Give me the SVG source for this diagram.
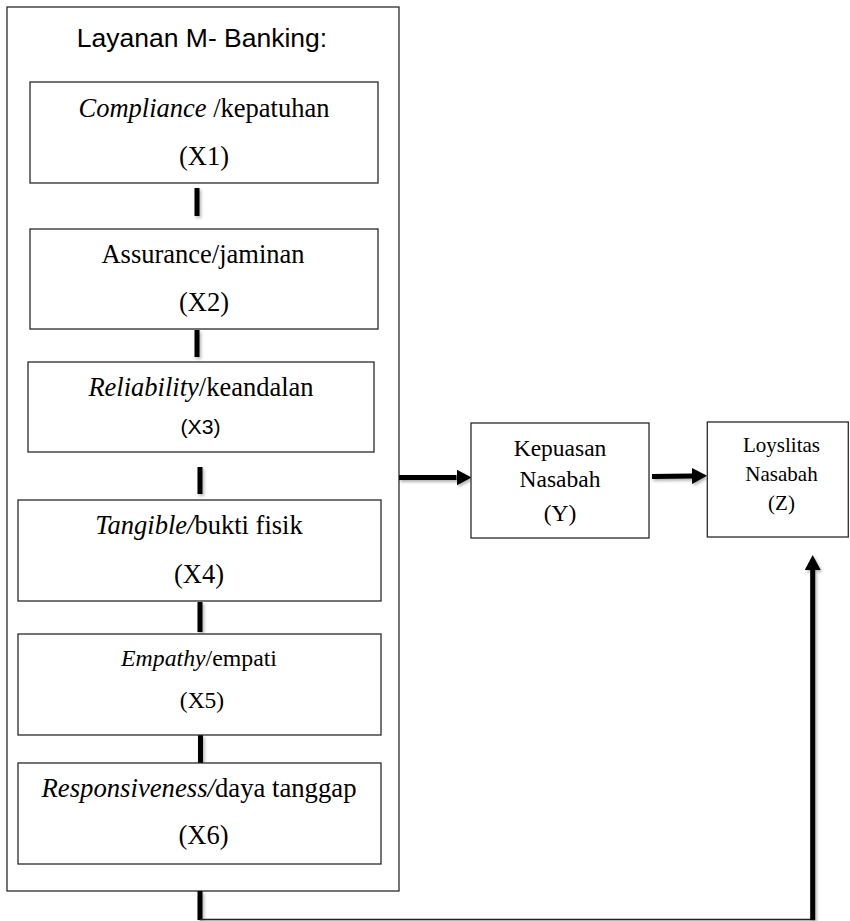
<svg xmlns="http://www.w3.org/2000/svg" width="850" height="921" viewBox="0 0 850 921">
  <style>
    .box { fill: #ffffff; stroke: #2a2a2a; stroke-width: 1.3; }
    .serif { font-family: "Liberation Serif", "Times New Roman", serif; fill: #000; text-anchor: middle; }
    .sans { font-family: "Liberation Sans", Arial, sans-serif; fill: #000; text-anchor: middle; }
    .it { font-style: italic; }
    .link { stroke: #000; stroke-width: 5; fill: none; }
    .thin { stroke: #222; stroke-width: 1.6; fill: none; }
  </style>
  <defs>
    <filter id="soft" x="-50%" y="-50%" width="200%" height="200%">
      <feDropShadow dx="1.5" dy="2" stdDeviation="1.4" flood-color="#000" flood-opacity="0.3"/>
    </filter>
    <marker id="head" markerUnits="userSpaceOnUse" markerWidth="16" markerHeight="17" refX="0" refY="8" orient="auto">
      <polygon points="0,0 15,8 0,16" fill="#000"/>
    </marker>
  </defs>

  <rect width="850" height="921" fill="#ffffff"/>

  <!-- service group container -->
  <g id="layanan">
    <rect class="box" x="7" y="7" width="392" height="884"/>
    <text class="sans" x="202" y="47" font-size="26.5">Layanan M- Banking:</text>
  </g>

  <!-- connectors -->
  <g id="connectors" filter="url(#soft)">
    <line class="link" x1="197" y1="188" x2="197" y2="216"/>
    <line class="link" x1="197" y1="330" x2="197" y2="357"/>
    <line class="link" x1="200" y1="467" x2="200" y2="494"/>
    <line class="link" x1="200" y1="602" x2="200" y2="632"/>
    <line class="link" x1="200.5" y1="735" x2="200.5" y2="763"/>
    <line class="link" x1="200" y1="891" x2="200" y2="920"/>
    <line class="thin" x1="200" y1="919.5" x2="815" y2="919.5"/>
    <line class="link" x1="812.7" y1="920" x2="812.7" y2="570" marker-end="url(#head)"/>
    <line class="link" stroke-width="6" x1="399" y1="477.5" x2="456.5" y2="477.5" marker-end="url(#head)"/>
    <line class="link" stroke-width="6" x1="652" y1="476.5" x2="692" y2="476" marker-end="url(#head)"/>
  </g>

  <g id="x1">
    <rect class="box" x="30" y="82" width="348" height="101"/>
    <text class="serif" x="204" y="117" font-size="26.5"><tspan class="it">Compliance</tspan> /kepatuhan</text>
    <text class="serif" x="204" y="165" font-size="26.5">(X1)</text>
  </g>

  <g id="x2">
    <rect class="box" x="30" y="229" width="348" height="100"/>
    <text class="serif" x="203" y="263" font-size="26.5">Assurance/jaminan</text>
    <text class="serif" x="204" y="311" font-size="26.5">(X2)</text>
  </g>

  <g id="x3">
    <rect class="box" x="28" y="362" width="346" height="90"/>
    <text class="serif" x="201" y="396" font-size="26.5"><tspan class="it">Reliability</tspan>/keandalan</text>
    <text class="sans" x="200.5" y="434" font-size="20" textLength="40" lengthAdjust="spacingAndGlyphs">(X3)</text>
  </g>

  <g id="x4">
    <rect class="box" x="18" y="500" width="363" height="101"/>
    <text class="serif" x="199" y="534" font-size="26.5"><tspan class="it">Tangible/</tspan>bukti fisik</text>
    <text class="serif" x="199" y="583" font-size="26.5">(X4)</text>
  </g>

  <g id="x5">
    <rect class="box" x="18" y="634" width="363" height="101"/>
    <text class="serif" x="199" y="666" font-size="23.8"><tspan class="it">Empathy</tspan>/empati</text>
    <text class="serif" x="202" y="708" font-size="23.5">(X5)</text>
  </g>

  <g id="x6">
    <rect class="box" x="18" y="763" width="363" height="101"/>
    <text class="serif" x="199" y="797" font-size="26.7"><tspan class="it">Responsiveness/</tspan>daya tanggap</text>
    <text class="serif" x="203.5" y="844" font-size="26.5">(X6)</text>
  </g>

  <g id="y">
    <rect class="box" x="471" y="423" width="178" height="115"/>
    <text class="serif" x="560" y="456" font-size="23.5">Kepuasan</text>
    <text class="serif" x="560" y="487" font-size="23.5">Nasabah</text>
    <text class="serif" x="560" y="521" font-size="23.5">(Y)</text>
  </g>

  <g id="z">
    <rect class="box" x="707.3" y="422" width="141" height="115"/>
    <text class="serif" x="781.5" y="451.5" font-size="21">Loyslitas</text>
    <text class="serif" x="781.5" y="480.5" font-size="21">Nasabah</text>
    <text class="serif" x="781.5" y="510" font-size="21">(Z)</text>
  </g>
</svg>
